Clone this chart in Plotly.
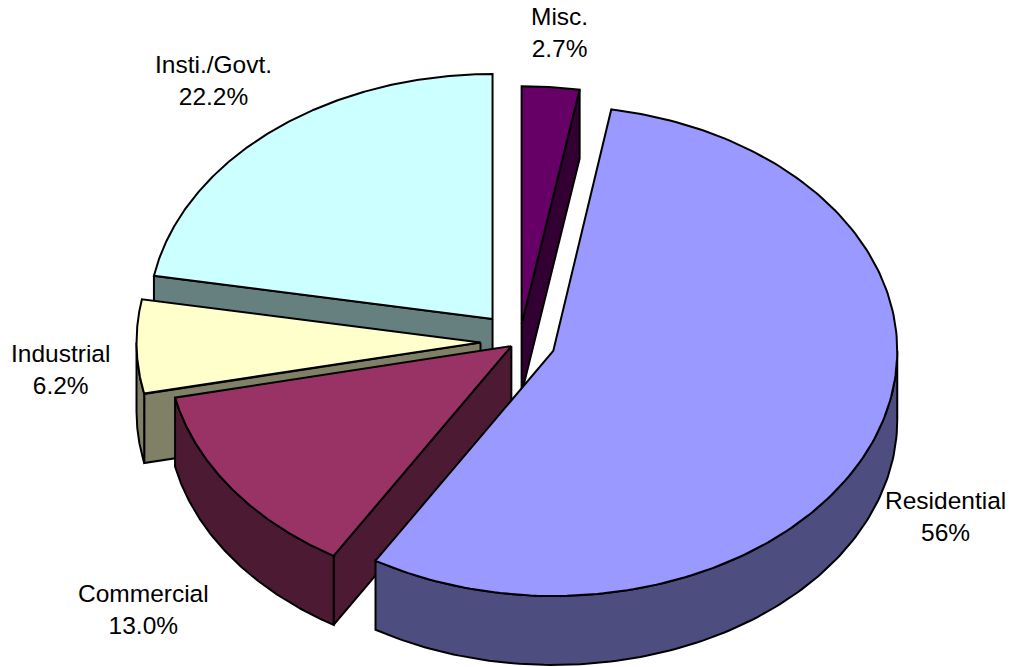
import numpy as np
import plotly.graph_objects as go

# ---- data ----
categories = ["Misc.", "Residential", "Commercial", "Industrial", "Insti./Govt."]
shares = [2.7, 56.0, 13.0, 6.2, 22.2]
share_labels = ["2.7%", "56%", "13.0%", "6.2%", "22.2%"]

# ---- styling / geometry ----
top_colors = ["#660066", "#9999FF", "#993366", "#FFFFCC", "#CCFFFF"]
side_colors = ["#330033", "#4D4D80", "#4D1A33", "#808066", "#668080"]
explode_px = [25, 36, 10, 39, 42]
ry_trim = [7, 0, 0, 0, 0]
draw_order = [4, 3, 2, 0, 1]
label_xy = [(559, 32), (945, 516), (143, 609), (60, 369), (213, 80)]
CX, CY, RX, RY, DEPTH = 519.5, 342, 344, 245, 69
W, H = 1013, 667
FONT = dict(family="Liberation Sans, Arial, sans-serif", size=24.5, color="black")

total = sum(shares)
fracs = np.array(shares) / total * 360.0
ends = np.cumsum(fracs)
starts = ends - fracs


def pt(ax, ay, theta, ry):
    t = np.radians(theta)
    return ax + RX * np.sin(t), ay - ry * np.cos(t)


def poly(fig, xs, ys, color):
    fig.add_trace(go.Scatter(
        x=list(xs), y=list(ys), mode="lines", fill="toself", fillcolor=color,
        line=dict(color="black", width=2), hoverinfo="skip", showlegend=False))


fig = go.Figure()
for i in draw_order:
    a0, a1 = starts[i], ends[i]
    ry = RY - ry_trim[i]
    mid = np.radians((a0 + a1) / 2)
    ax = CX + explode_px[i] * np.sin(mid)
    ay = CY - explode_px[i] * np.cos(mid) * RY / RX
    # cut faces that look toward the viewer
    for edge, visible in ((a0, np.sin(np.radians(a0)) < -1e-9),
                          (a1, np.sin(np.radians(a1)) > 1e-9)):
        if visible:
            ex, ey = pt(ax, ay, edge, ry)
            poly(fig, [ax, ex, ex, ax, ax],
                 [ay, ey, ey + DEPTH, ay + DEPTH, ay], side_colors[i])
    # outer rim, front half of the ellipse only
    w0, w1 = max(a0, 90), min(a1, 270)
    if w1 > w0:
        th = np.linspace(w0, w1, 120)
        rx_, ry_ = pt(ax, ay, th, ry)
        poly(fig, np.r_[rx_, rx_[::-1], rx_[0]],
             np.r_[ry_, ry_[::-1] + DEPTH, ry_[0]], side_colors[i])
    # top face
    th = np.linspace(a0, a1, 200)
    tx, ty = pt(ax, ay, th, ry)
    poly(fig, np.r_[ax, tx, ax], np.r_[ay, ty, ay], top_colors[i])

for cat, lab, (lx, ly) in zip(categories, share_labels, label_xy):
    fig.add_annotation(x=lx, y=ly, text=f"{cat}<br>{lab}", showarrow=False,
                       font=FONT, align="center", xanchor="center", yanchor="middle")

fig.update_layout(
    width=W, height=H, margin=dict(l=0, r=0, t=0, b=0),
    paper_bgcolor="white", plot_bgcolor="white", showlegend=False,
    xaxis=dict(range=[0, W], visible=False, fixedrange=True),
    yaxis=dict(range=[H, 0], visible=False, fixedrange=True),
)
fig.write_html("out.html", config=dict(displayModeBar=False),
               post_script="document.body.style.margin='0';document.body.style.overflow='hidden';")
